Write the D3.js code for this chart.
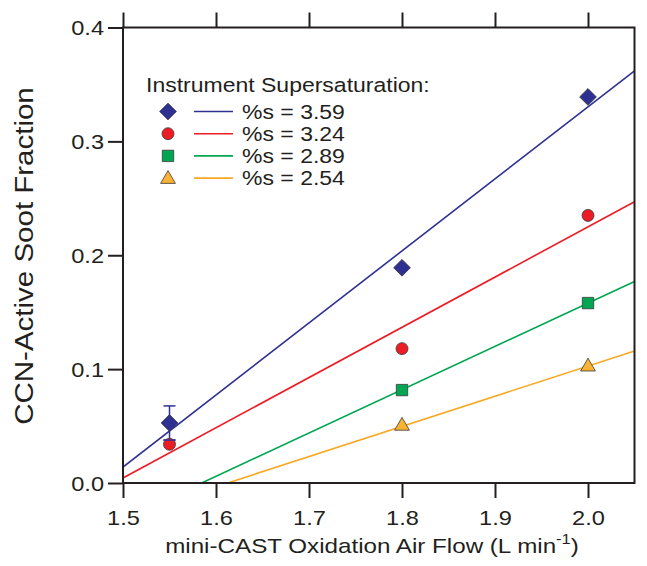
<!DOCTYPE html>
<html><head><meta charset="utf-8">
<script src="https://cdn.jsdelivr.net/npm/d3@7"></script>
<style>body{margin:0;background:#fff;} svg{display:block;} text{font-family:"Liberation Sans",Arial,sans-serif;fill:#231f20;}</style>
</head><body>
<svg id="c" width="647" height="566"></svg>
<script>
const labels = ["%s = 3.59","%s = 3.24","%s = 2.89","%s = 2.54"];
const colors = ["#2e3192","#ed1c24","#00a651","#f9b233"];
const lineColors = ["#2e3192","#ed1c24","#00a651","#f7a823"];
const shapes = ["diamond","circle","square","triangle"];
const flows = [[1.55,1.8,2.0],[1.55,1.8,2.0],[1.8,2.0],[1.8,2.0]];
const fractions = [[0.0527,0.189,0.339],[0.034,0.118,0.235],[0.0816,0.158],[0.051,0.103]];
const errBars = [[0.015,null,null],[null,null,null],[null,null],[null,null]];
// fitted lines: [x, y] end points
const fitStart = [[1.5,0.014],[1.5,0.0044],[1.5846,0],[1.6126,0]];
const fitEnd = [[2.05,0.362],[2.05,0.247],[2.05,0.177],[2.05,0.116]];
const xTicks = [1.5,1.6,1.7,1.8,1.9,2.0];
const yTicks = [0.0,0.1,0.2,0.3,0.4];

const SX = 1.18; // horizontal text stretch of the reference
const svg = d3.select("#c");
const L=123, R=634.5, T=27.5, B=483;
const x = d3.scaleLinear().domain([1.5,2.05]).range([L,R]);
const y = d3.scaleLinear().domain([0,0.4]).range([B,T]);
const ink="#231f20";

function stext(px, py, str, size, anchor){
  return svg.append("text").attr("transform",`translate(${px},${py}) scale(${SX},1)`)
    .attr("font-size",size).attr("text-anchor",anchor||"start").text(str);
}

// fit lines (clipped)
svg.append("defs").append("clipPath").attr("id","clip").append("rect")
  .attr("x",L).attr("y",T).attr("width",R-L).attr("height",B-T);
const g = svg.append("g").attr("clip-path","url(#clip)");
fitStart.forEach((s,i)=>{
  g.append("line").attr("x1",x(s[0])).attr("y1",y(s[1])).attr("x2",x(fitEnd[i][0])).attr("y2",y(fitEnd[i][1]))
   .attr("stroke",lineColors[i]).attr("stroke-width",1.6);
});

// axes
const fmt = d3.format(".1f");
svg.append("g").attr("transform",`translate(0,${B})`)
  .call(d3.axisBottom(x).tickValues(xTicks).tickFormat(fmt).tickSize(15).tickSizeOuter(0))
  .call(a=>{a.select(".domain").remove(); a.selectAll("line").attr("stroke",ink).attr("stroke-width",2);
    a.selectAll("text").attr("font-size",20).attr("font-family","Liberation Sans, Arial, sans-serif").attr("fill",ink)
      .attr("y",42).attr("dy",0).attr("transform",`scale(${SX},1)`);});
svg.append("g").attr("transform",`translate(0,${T})`)
  .call(d3.axisTop(x).tickValues(xTicks).tickFormat("").tickSize(15).tickSizeOuter(0))
  .call(a=>{a.select(".domain").remove(); a.selectAll("line").attr("stroke",ink).attr("stroke-width",2);});
svg.append("g").attr("transform",`translate(${L},0)`)
  .call(d3.axisLeft(y).tickValues(yTicks).tickFormat(fmt).tickSize(15).tickSizeOuter(0))
  .call(a=>{a.select(".domain").remove(); a.selectAll("line").attr("stroke",ink).attr("stroke-width",2);
    a.selectAll("text").attr("font-size",20).attr("font-family","Liberation Sans, Arial, sans-serif").attr("fill",ink)
      .attr("x",-19/SX).attr("dy","0.36em").attr("transform",`scale(${SX},1)`);});
svg.append("rect").attr("x",L).attr("y",T).attr("width",R-L).attr("height",B-T)
  .attr("fill","none").attr("stroke",ink).attr("stroke-width",2);

// error bars
flows.forEach((fs,i)=>fs.forEach((f,j)=>{
  const e = errBars[i][j]; if(e==null) return;
  const v = fractions[i][j], cx = x(f);
  svg.append("line").attr("x1",cx).attr("x2",cx).attr("y1",y(v+e)).attr("y2",y(v-e)).attr("stroke",colors[i]).attr("stroke-width",1.5);
  [v+e,v-e].forEach(t=>svg.append("line").attr("x1",cx-6).attr("x2",cx+6).attr("y1",y(t)).attr("y2",y(t)).attr("stroke",colors[i]).attr("stroke-width",1.5));
}));

// markers
const sym = {diamond:d3.symbolSquare, circle:d3.symbolCircle, square:d3.symbolSquare, triangle:d3.symbolTriangle};
const sizes = {diamond:140, circle:113, square:130, triangle:95};
function marker(sel, shape, i, cx, cy){
  const p = sel.append("path").attr("d", d3.symbol().type(sym[shape]).size(sizes[shape])())
    .attr("fill",colors[i]).attr("stroke","#3a3a3a").attr("stroke-width",0.8);
  let tr = `translate(${cx},${cy})`;
  if(shape==="diamond") tr += " rotate(45)";
  if(shape==="triangle") tr = `translate(${cx},${cy+1})`;
  p.attr("transform",tr);
}
[1,0,2,3].forEach(i=>flows[i].forEach((f,j)=>marker(svg,shapes[i],i,x(f),y(fractions[i][j]))));
// blue lower error cap drawn over the red circle, as in the reference
svg.append("line").attr("x1",x(flows[0][0])-6).attr("x2",x(flows[0][0])+6)
  .attr("y1",y(fractions[0][0]-errBars[0][0])).attr("y2",y(fractions[0][0]-errBars[0][0]))
  .attr("stroke",colors[0]).attr("stroke-width",1.5);

// legend
stext(146, 92, "Instrument Supersaturation:", 19.5);
labels.forEach((lab,i)=>{
  const ly = 111.5 + i*22.2;
  marker(svg,shapes[i],i,168,ly);
  svg.append("line").attr("x1",194).attr("x2",233).attr("y1",ly).attr("y2",ly).attr("stroke",lineColors[i]).attr("stroke-width",1.6);
  stext(242, ly+7, lab, 19.5);
});

// axis titles
svg.append("text").attr("transform",`translate(33,256) rotate(-90) scale(${SX},1)`).attr("text-anchor","middle")
  .attr("font-size",25).text("CCN-Active Soot Fraction");
const xt = stext(372, 553, "", 20.5, "middle");
xt.append("tspan").text("mini-CAST Oxidation Air Flow (L min");
xt.append("tspan").attr("dy",-9).attr("font-size",14).text("-1");
xt.append("tspan").attr("dy",9).text(")");
</script>
</body></html>
